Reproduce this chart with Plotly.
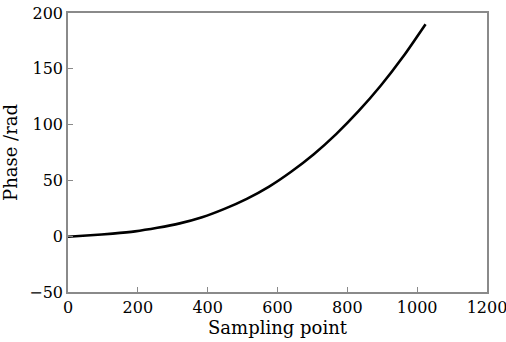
import plotly.graph_objects as go

sampling_point = [0, 64, 128, 192, 256, 320, 384, 448, 512, 576, 640, 704, 768, 832, 896, 960, 1024]
phase_rad = [-0.5, 0.8, 2.3, 4.3, 7.5, 11.5, 17, 24.5, 33.5, 44.5, 58, 73.5, 91.5, 112, 135, 161, 190]

x_ticks = [0, 200, 400, 600, 800, 1000, 1200]
y_ticks = [-50, 0, 50, 100, 150, 200]

FONT = "DejaVu Serif"

fig = go.Figure()
fig.add_trace(go.Scatter(
    x=sampling_point, y=phase_rad, mode="lines",
    line=dict(color="black", width=2.6, shape="spline", smoothing=0.7),
    showlegend=False, hoverinfo="skip",
))

axis_common = dict(
    showgrid=False, zeroline=False, automargin=False,
    showline=True, linecolor="#8a8a8a", linewidth=1.5, mirror=True,
    ticks="inside", ticklen=5, tickwidth=1.2, tickcolor="#8a8a8a",
    tickfont=dict(family=FONT, size=16, color="black"),
    ticklabeloverflow="allow",
)

fig.update_layout(
    width=506, height=342,
    margin=dict(l=68, r=19, t=13, b=50),
    paper_bgcolor="white", plot_bgcolor="white",
    font=dict(family=FONT, color="black"),
    xaxis=dict(
        range=[0, 1200], tickvals=x_ticks, ticktext=[str(v) for v in x_ticks],
        title=dict(text="Sampling point", font=dict(family=FONT, size=18), standoff=0),
        **axis_common,
    ),
    yaxis=dict(
        range=[-50, 200], tickvals=y_ticks,
        ticktext=["\u221250" if v < 0 else str(v) for v in y_ticks],
        title=dict(text="Phase /rad", font=dict(family=FONT, size=18), standoff=9),
        **axis_common,
    ),
)

fig.write_html("out.html", config={"displayModeBar": False},
               post_script="document.body.style.margin='0';")
